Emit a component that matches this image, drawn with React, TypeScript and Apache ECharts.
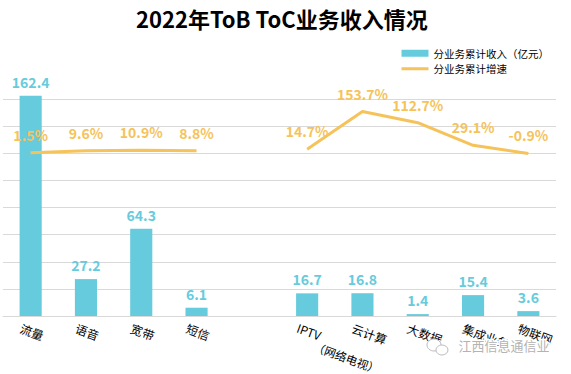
import React, { useEffect, useRef } from "react";
import * as echarts from "echarts";

const categories = ["流量", "语音", "宽带", "短信", "", "IPTV\n（网络电视）", "云计算", "大数据", "集成业务", "物联网"];
const revenue: (number | null)[] = [162.4, 27.2, 64.3, 6.1, null, 16.7, 16.8, 1.4, 15.4, 3.6];
const growth: (number | null)[] = [1.5, 9.6, 10.9, 8.8, null, 14.7, 153.7, 112.7, 29.1, -0.9];
const seriesNames = ["分业务累计收入（亿元）", "分业务累计增速"];
const titleText = "2022年ToB ToC业务收入情况";
const watermarkText = "江西信息通信业";

const FONT = "'Noto Sans CJK SC', 'Noto Sans', sans-serif";
const BAR_COLOR = "#66cbdd";
const LINE_COLOR = "#f5c35a";

export default function App() {
  const ref = useRef<HTMLDivElement>(null);
  useEffect(() => {
    if (!ref.current) return;
    const chart = echarts.init(ref.current, undefined, { renderer: "svg" });
    chart.setOption({
      animation: false,
      backgroundColor: "#ffffff",
      textStyle: { fontFamily: FONT },
      title: {
        text: titleText,
        left: 131,
        top: 2,
        textStyle: { fontSize: 22, fontWeight: "bold", color: "#000", fontFamily: FONT },
      },
      legend: {
        orient: "vertical",
        left: 395,
        top: 43,
        itemWidth: 27,
        itemHeight: 7,
        itemGap: 5,
        textStyle: { fontSize: 10.5, color: "#000", fontFamily: FONT },
        data: [
          { name: seriesNames[0], icon: "rect" },
          { name: seriesNames[1], itemStyle: { opacity: 0 }, lineStyle: { width: 3 } },
        ],
      },
      grid: { left: 3, right: 15, top: 99, bottom: 58, containLabel: false, outerBoundsMode: "none" },
      xAxis: {
        type: "category",
        data: categories,
        boundaryGap: true,
        axisLine: { show: true, lineStyle: { color: "#d9d9d9", width: 1 } },
        axisTick: { show: false },
        axisLabel: {
          interval: 0,
          rotate: -20,
          align: "left",
          verticalAlign: "top",
          margin: 8,
          padding: [0, 0, 0, -8],
          fontSize: 12,
          lineHeight: 13,
          color: "#000",
          fontFamily: FONT,
          formatter: (v: string) => {
            const parts = v.split("\n");
            if (parts.length > 1) return `{a|${parts[0]}}\n{b|${parts[1]}}`;
            return v;
          },
          rich: {
            a: { fontSize: 12, color: "#000", fontFamily: FONT, lineHeight: 12 },
            b: { fontSize: 11.5, color: "#000", fontFamily: FONT, lineHeight: 12, padding: [0, 0, 0, 22] },
          },
        },
      },
      yAxis: [
        {
          type: "value",
          min: 0,
          max: 160,
          interval: 20,
          axisLabel: { show: false },
          axisLine: { show: false },
          axisTick: { show: false },
          splitLine: { show: true, lineStyle: { color: "#d9d9d9", width: 1 } },
        },
        {
          type: "value",
          min: -600,
          max: 200,
          interval: 100,
          axisLabel: { show: false },
          axisLine: { show: false },
          axisTick: { show: false },
          splitLine: { show: false },
        },
      ],
      series: [
        {
          name: seriesNames[0],
          type: "bar",
          yAxisIndex: 0,
          barWidth: "40%",
          clip: false,
          data: revenue.map((v) => (v === null ? "-" : v)),
          itemStyle: { color: BAR_COLOR },
          label: {
            show: true,
            position: "top",
            distance: 7,
            fontSize: 14,
            fontWeight: "bold",
            color: BAR_COLOR,
            fontFamily: FONT,
          },
        },
        {
          name: seriesNames[1],
          type: "line",
          yAxisIndex: 1,
          data: growth.map((v) => (v === null ? "-" : v)),
          connectNulls: false,
          symbol: "circle",
          symbolSize: 0.1,
          showSymbol: true,
          lineStyle: { color: LINE_COLOR, width: 3 },
          itemStyle: { color: LINE_COLOR },
          label: {
            show: true,
            position: "top",
            distance: 11,
            fontSize: 14,
            fontWeight: "bold",
            color: LINE_COLOR,
            fontFamily: FONT,
            formatter: (p: any) => `${p.value}%`,
          },
          z: 3,
        },
      ],
      graphic: [
        {
          type: "ellipse",
          shape: { cx: 434, cy: 345, rx: 7, ry: 6 },
          style: { fill: "#fff", stroke: "#bbbbbb", lineWidth: 1 },
          z: 100,
        },
        {
          type: "ellipse",
          shape: { cx: 442, cy: 350, rx: 6, ry: 5 },
          style: { fill: "#fff", stroke: "#bbbbbb", lineWidth: 1 },
          z: 101,
        },
        {
          type: "text",
          left: 457,
          top: 337,
          style: {
            text: watermarkText,
            fontSize: 13,
            fill: "#b3b3b3",
            stroke: "#ffffff",
            lineWidth: 3,
            fontFamily: FONT,
          },
          z: 102,
        },
      ],
    });
    return () => chart.dispose();
  }, []);
  return (
    <div
      ref={ref}
      style={{ position: "fixed", left: 0, top: 0, width: 571, height: 374 }}
    />
  );
}
